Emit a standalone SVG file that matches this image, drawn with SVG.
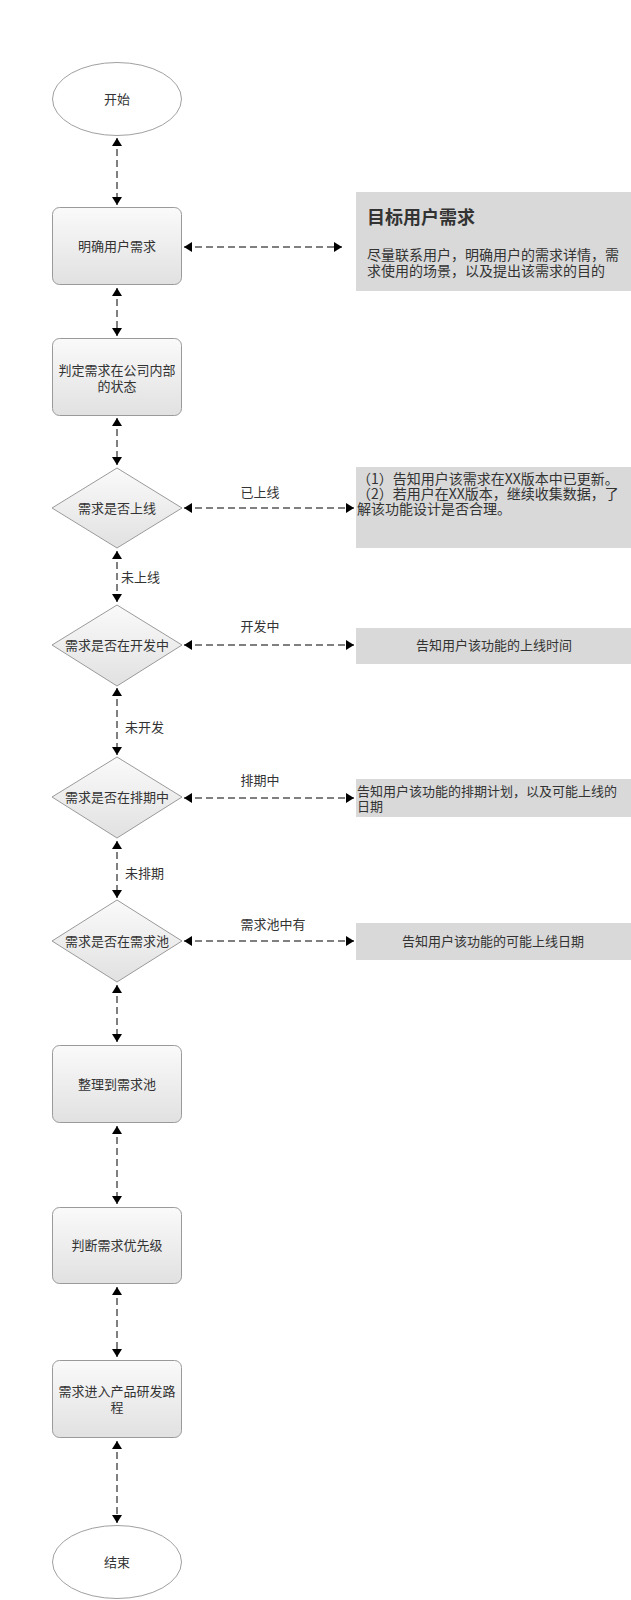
<svg xmlns="http://www.w3.org/2000/svg" width="631" height="1600" viewBox="0 0 631 1600">
<defs>
<style>
text{font-family:"Noto Sans CJK SC","Noto Sans",sans-serif;fill:#333;font-size:13px}
.c{text-anchor:middle}
.node{fill:url(#g);stroke:#9a9a9a;stroke-width:1}
.ell{fill:#fff;stroke:#a0a0a0;stroke-width:1}
.info{fill:#d9d9d9}
.con{stroke:#000;stroke-width:1;stroke-dasharray:7,4;fill:none;marker-start:url(#ah);marker-end:url(#ah)}
.t14{font-size:14px}
.title{font-size:18px;font-weight:bold}
</style>
<linearGradient id="g" x1="0" y1="0" x2="0" y2="1">
<stop offset="0" stop-color="#fafafa"/>
<stop offset="1" stop-color="#e1e1e1"/>
</linearGradient>
<marker id="ah" markerUnits="userSpaceOnUse" markerWidth="9" markerHeight="10" refX="8" refY="5" orient="auto-start-reverse">
<path d="M0,0 L8,5 L0,10 z" fill="#000"/>
</marker>
</defs>
<rect width="631" height="1600" fill="#fff"/>

<g id="connectors">
<line class="con" x1="117" y1="138" x2="117" y2="205"/>
<line class="con" x1="117" y1="288" x2="117" y2="336"/>
<line class="con" x1="117" y1="418" x2="117" y2="465"/>
<line class="con" x1="117" y1="551" x2="117" y2="602"/>
<line class="con" x1="117" y1="688" x2="117" y2="755"/>
<line class="con" x1="117" y1="841" x2="117" y2="898"/>
<line class="con" x1="117" y1="985" x2="117" y2="1042"/>
<line class="con" x1="117" y1="1126" x2="117" y2="1204"/>
<line class="con" x1="117" y1="1287" x2="117" y2="1357"/>
<line class="con" x1="117" y1="1441" x2="117" y2="1523"/>
<line class="con" x1="184" y1="247" x2="342" y2="247"/>
<line class="con" x1="184" y1="508" x2="354" y2="508"/>
<line class="con" x1="184" y1="645" x2="354" y2="645"/>
<line class="con" x1="184" y1="798" x2="354" y2="798"/>
<line class="con" x1="184" y1="941" x2="354" y2="941"/>
<text class="c" x="260" y="497">已上线</text>
<text class="c" x="260" y="631">开发中</text>
<text class="c" x="260" y="785">排期中</text>
<text class="c" x="273" y="929">需求池中有</text>
<text x="121" y="582">未上线</text>
<text x="125" y="732">未开发</text>
<text x="125" y="878">未排期</text>
</g>

<g id="start">
<ellipse class="ell" cx="117" cy="99" rx="64.5" ry="36.5"/>
<text class="c" x="117" y="104">开始</text>
</g>
<g id="n1">
<rect class="node" x="52.5" y="207.5" width="129" height="77" rx="7"/>
<text class="c" x="117" y="251">明确用户需求</text>
</g>
<g id="info1">
<rect class="info" x="356" y="192" width="275" height="99"/>
<text class="title" x="367" y="224">目标用户需求</text>
<text class="t14" x="367" y="260">尽量联系用户，明确用户的需求详情，需</text>
<text class="t14" x="367" y="276">求使用的场景，以及提出该需求的目的</text>
</g>
<g id="n2">
<rect class="node" x="52.5" y="338.5" width="129" height="77" rx="7"/>
<text class="c" x="117" y="375">判定需求在公司内部</text>
<text class="c" x="117" y="391">的状态</text>
</g>
<g id="d1">
<polygon class="node" points="117,468 182,508 117,548 52,508"/>
<text class="c" x="117" y="513">需求是否上线</text>
</g>
<g id="info2">
<rect class="info" x="356" y="467" width="275" height="81"/>
<text class="t14" x="357" y="484">（1）告知用户该需求在XX版本中已更新。</text>
<text class="t14" x="357" y="499">（2）若用户在XX版本，继续收集数据，了</text>
<text class="t14" x="357" y="514">解该功能设计是否合理。</text>
</g>
<g id="d2">
<polygon class="node" points="117,605 182,645 117,686 52,645"/>
<text class="c" x="117" y="650">需求是否在开发中</text>
</g>
<g id="info3">
<rect class="info" x="356" y="628" width="275" height="36"/>
<text class="c" x="494" y="650">告知用户该功能的上线时间</text>
</g>
<g id="d3">
<polygon class="node" points="117,757 182,797 117,838 52,797"/>
<text class="c" x="117" y="802">需求是否在排期中</text>
</g>
<g id="info4">
<rect class="info" x="356" y="779" width="275" height="38"/>
<text x="357" y="796">告知用户该功能的排期计划，以及可能上线的</text>
<text x="357" y="811">日期</text>
</g>
<g id="d4">
<polygon class="node" points="117,900 182,941 117,982 52,941"/>
<text class="c" x="117" y="946">需求是否在需求池</text>
</g>
<g id="info5">
<rect class="info" x="356" y="923" width="275" height="37"/>
<text class="c" x="493" y="946">告知用户该功能的可能上线日期</text>
</g>
<g id="n3">
<rect class="node" x="52.5" y="1045.5" width="129" height="77" rx="7"/>
<text class="c" x="117" y="1089">整理到需求池</text>
</g>
<g id="n4">
<rect class="node" x="52.5" y="1207.5" width="129" height="76" rx="7"/>
<text class="c" x="117" y="1250">判断需求优先级</text>
</g>
<g id="n5">
<rect class="node" x="52.5" y="1360.5" width="129" height="77" rx="7"/>
<text class="c" x="117" y="1396">需求进入产品研发路</text>
<text class="c" x="117" y="1412">程</text>
</g>
<g id="end">
<ellipse class="ell" cx="117" cy="1562" rx="64.5" ry="36.5"/>
<text class="c" x="117" y="1567">结束</text>
</g>
</svg>
